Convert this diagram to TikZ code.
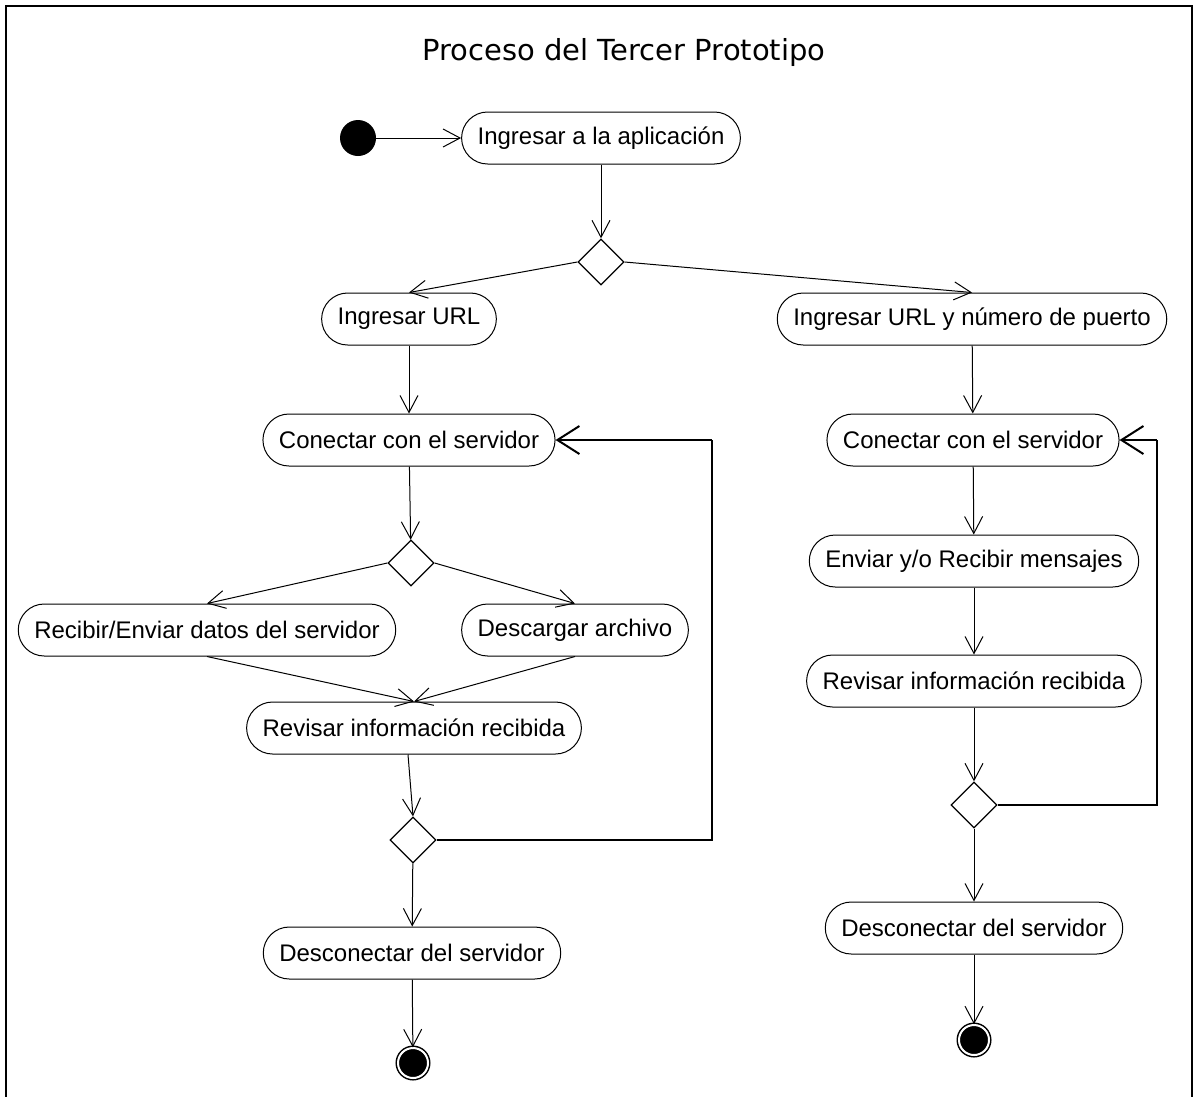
\documentclass[tikz,border=0pt]{standalone}
\usepackage{fontspec}
\setmainfont{Liberation Sans}
\newfontfamily\titlefont{DejaVu Sans}
\usetikzlibrary{shapes.geometric,arrows.meta}
\begin{document}
\begin{tikzpicture}[x=1pt,y=-1pt,
  act/.style={draw,line width=1pt,rounded corners=26pt,minimum height=52pt,inner xsep=16pt,font=\fontsize{24}{28}\selectfont},
  dec/.style={draw,diamond,line width=1.3pt,minimum width=46pt,minimum height=46pt,inner sep=0pt},
  initial/.style={circle,fill=black,minimum size=36pt,inner sep=0pt},
  final/.style={circle,fill=black,draw=black,double=white,double distance=2pt,line width=1.5pt,minimum size=30pt,inner sep=0pt},
  flow/.style={line width=1pt,-{Straight Barb[length=17pt,width=18pt,line width=1pt]}},
  loop/.style={line width=2pt,-{Straight Barb[length=22pt,width=28pt,line width=2pt]}}]
\useasboundingbox (0,0) rectangle (1193,1096);
\begin{scope}
\clip (0,0) rectangle (1193,1096);
\draw[line width=2pt] (6,6) rectangle (1191.5,1110);
\end{scope}

\node[font=\titlefont\fontsize{29}{34}\selectfont] (title) at (624,52) {Proceso del Tercer Prototipo};

% upper part
\node[initial] (start) at (358,138) {};
\node[act] (app) at (601,138) {Ingresar a la aplicación};
\node[dec] (d1) at (601,262) {};
\node[act] (url) at (409,319) {Ingresar URL};
\node[act] (urlp) at (972,319) {Ingresar URL y número de puerto};

% left branch
\node[act] (conL) at (409,440) {Conectar con el servidor};
\node[dec] (d2) at (411,563) {};
\node[act] (recv) at (207,630) {Recibir/Enviar datos del servidor};
\node[act] (down) at (575,630) {Descargar archivo};
\node[act] (revL) at (414,728) {Revisar información recibida};
\node[dec] (d3) at (413,840) {};
\node[act] (disL) at (412,953) {Desconectar del servidor};
\node[final] (endL) at (413,1063) {};
\coordinate (loopL1) at (712,840);
\coordinate (loopL2) at (712,440);

% right branch
\node[act] (conR) at (973,440) {Conectar con el servidor};
\node[act] (send) at (974,561) {Enviar y/o Recibir mensajes};
\node[act] (revR) at (974,681) {Revisar información recibida};
\node[dec] (d4) at (974,805) {};
\node[act] (disR) at (974,928) {Desconectar del servidor};
\node[final] (endR) at (974,1040) {};
\coordinate (loopR1) at (1157,805);
\coordinate (loopR2) at (1157,440);

% flows
\draw[flow] (start) -- (app);
\draw[flow] (app) -- (d1);
\draw[flow] (d1.west) -- (url.north);
\draw[flow] (d1.east) -- (urlp.north);
\draw[flow] (url) -- (conL);
\draw[flow] (conL) -- (d2);
\draw[flow] (d2.west) -- (recv.north);
\draw[flow] (d2.east) -- (down.north);
\draw[flow] (recv.south) -- (revL.north);
\draw[flow] (down.south) -- (revL.north);
\draw[flow] (revL.south west -| 408,0) -- (d3.north);
\draw[flow] (d3) -- (disL);
\draw[flow] (disL) -- (endL);
\draw[line width=1.3pt] (d3.east) -- (loopL1) -- (loopL2);
\draw[loop] (loopL2) -- (conL.east);

\draw[flow] (urlp) -- (conR);
\draw[flow] (conR) -- (send);
\draw[flow] (send) -- (revR);
\draw[flow] (revR) -- (d4);
\draw[flow] (d4) -- (disR);
\draw[flow] (disR) -- (endR);
\draw[line width=1.3pt] (d4.east) -- (loopR1) -- (loopR2);
\draw[loop] (loopR2) -- (conR.east);
\end{tikzpicture}
\end{document}
